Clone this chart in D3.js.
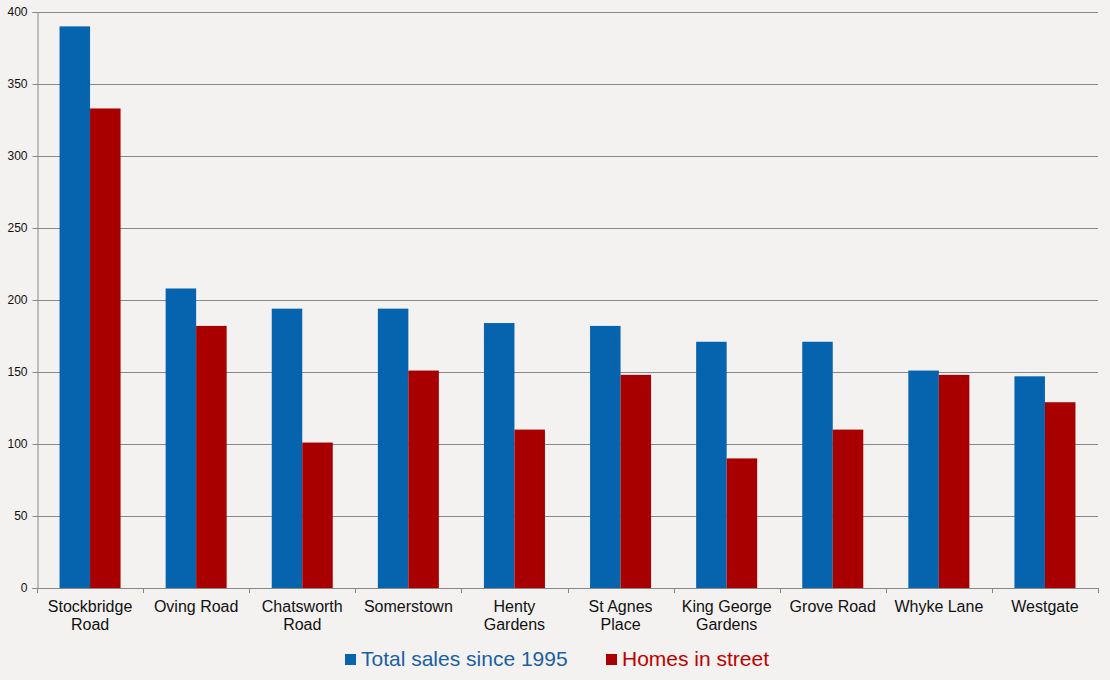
<!DOCTYPE html>
<html><head><meta charset="utf-8">
<script src="https://cdn.jsdelivr.net/npm/d3@7"></script>
<style>
html,body{margin:0;padding:0;background:#f3f2f0;}
svg{display:block;font-family:"Liberation Sans",Arial,sans-serif;}
</style></head>
<body>
<svg id="chart" width="1110" height="680"></svg>
<script>
const categories = [["Stockbridge","Road"],["Oving Road"],["Chatsworth","Road"],["Somerstown"],["Henty","Gardens"],["St Agnes","Place"],["King George","Gardens"],["Grove Road"],["Whyke Lane"],["Westgate"]];
const totalSales = [390, 208, 194, 194, 184, 182, 171, 171, 151, 147];
const homesInStreet = [333, 182, 101, 151, 110, 148, 90, 110, 148, 129];
const seriesNames = ["Total sales since 1995", "Homes in street"];
const yTicks = [0, 50, 100, 150, 200, 250, 300, 350, 400];

const colors = ["#0664af", "#a80000"];
const textColors = ["#1b5fa3", "#c00000"];

const svg = d3.select("#chart");
const mLeft = 37, mRight = 1098, mTop = 12, mBottom = 588;

const x0 = d3.scaleBand().domain(d3.range(categories.length)).range([mLeft, mRight]).paddingInner(0.425).paddingOuter(0.2125);
const x1 = d3.scaleBand().domain([0,1]).range([0, x0.bandwidth()]);
const y = d3.scaleLinear().domain([0, 400]).range([mBottom, mTop]);

// gridlines
svg.append("g").selectAll("line").data(yTicks.filter(d=>d>0)).join("line")
  .attr("x1", mLeft).attr("x2", mRight)
  .attr("y1", d=>Math.round(y(d))+0.5).attr("y2", d=>Math.round(y(d))+0.5)
  .attr("stroke", "#888").attr("stroke-width", 1);

// bars
const data = categories.map((c,i)=>[totalSales[i], homesInStreet[i]]);
const groups = svg.append("g").selectAll("g").data(data).join("g")
  .attr("transform", (d,i)=>`translate(${x0(i)},0)`);
groups.selectAll("rect").data(d=>d.map((v,j)=>({v,j}))).join("rect")
  .attr("x", d=>x1(d.j)).attr("width", x1.bandwidth())
  .attr("y", d=>y(d.v)).attr("height", d=>y(0)-y(d.v))
  .attr("fill", d=>colors[d.j]);

// y axis
const yAxis = d3.axisLeft(y).tickValues(yTicks).tickSize(5).tickPadding(5);
const gy = svg.append("g").attr("transform", `translate(${mLeft+0.5},0)`).call(yAxis);
gy.select(".domain").attr("stroke", "#888");
gy.selectAll(".tick line").attr("stroke", "#888");
gy.selectAll(".tick text").attr("font-size", 12).attr("fill", "#111").attr("font-family", "Liberation Sans, Arial, sans-serif");

// x axis line and ticks
const gx = svg.append("g");
gx.append("line").attr("x1", mLeft).attr("x2", mRight).attr("y1", mBottom+0.5).attr("y2", mBottom+0.5).attr("stroke", "#888");
const step = x0.step();
gx.selectAll("line.t").data(d3.range(categories.length+1)).join("line").attr("class","t")
  .attr("x1", i=>Math.round(mLeft + i*step)+0.5).attr("x2", i=>Math.round(mLeft + i*step)+0.5)
  .attr("y1", mBottom).attr("y2", mBottom+5).attr("stroke", "#888");

// category labels
const lab = svg.append("g").selectAll("text").data(categories).join("text")
  .attr("x", (d,i)=>x0(i)+x0.bandwidth()/2).attr("y", 612)
  .attr("text-anchor", "middle").attr("font-size", 16).attr("fill", "#111");
lab.selectAll("tspan").data(d=>d).join("tspan")
  .attr("x", function(){return d3.select(this.parentNode).attr("x");})
  .attr("dy", (d,i)=>i===0?0:18).text(d=>d);

// legend
const leg = svg.append("g");
const legX = [345, 606];
seriesNames.forEach((name,i)=>{
  leg.append("rect").attr("x", legX[i]).attr("y", 654).attr("width", 11).attr("height", 11).attr("fill", colors[i]);
  leg.append("text").attr("x", legX[i]+16).attr("y", 666).attr("font-size", 21).attr("fill", textColors[i]).text(name);
});
</script>
</body></html>
